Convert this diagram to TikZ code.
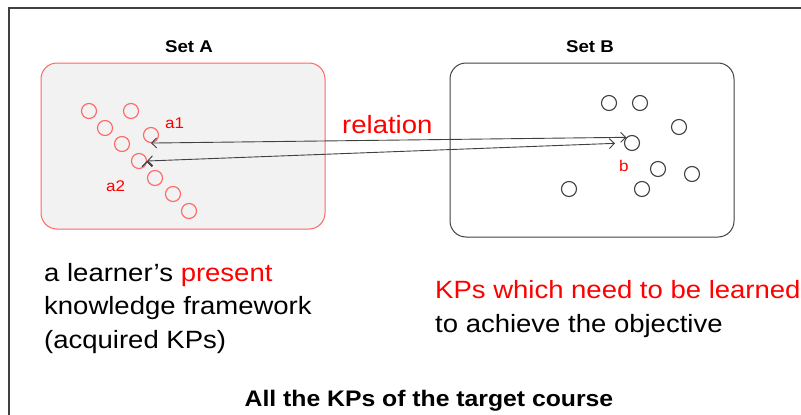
\documentclass[tikz,border=0pt]{standalone}
\usepackage{fontspec}
\setmainfont{Liberation Sans}[FakeStretch=1.1]
\usetikzlibrary{arrows.meta,positioning}

\definecolor{kpred}{HTML}{FF0000}
\definecolor{setedge}{HTML}{FF6666}
\definecolor{setfill}{HTML}{F2F2F2}
\definecolor{inkgray}{HTML}{404040}

\begin{document}
\begin{tikzpicture}[x=1pt,y=-1pt,>={Straight Barb[length=5pt,width=10pt]},
	kpA/.style={circle,draw=setedge,line width=1.1pt,minimum size=15pt,inner sep=0pt},
	kpB/.style={circle,draw=inkgray,line width=1.1pt,minimum size=15pt,inner sep=0pt},
	setbox/.style={rectangle,rounded corners=16pt,line width=1pt,minimum width=284pt},
	settitle/.style={font=\bfseries\fontsize{17}{20}\selectfont,anchor=base,inner sep=0pt},
	kplabel/.style={text=kpred,font=\fontsize{15.5}{18}\selectfont,anchor=base west,inner sep=0pt},
	bigtext/.style={font=\fontsize{25}{33.5}\selectfont,align=left,anchor=base west,inner sep=0pt}]

\useasboundingbox (0,0) rectangle (801,415);
\draw[inkgray,line width=2pt] (801,8) -- (9,8) -- (9,415);

% the two sets
\node[setbox,draw=setedge,fill=setfill,minimum height=166pt] (setA) at (183,146) {};
\node[setbox,draw=inkgray,minimum height=174pt] (setB) at (592,150) {};
\node[settitle] (titleA) at (189,52) {Set A};
\node[settitle] (titleB) at (590,52) {Set B};

% KPs of set A
\node[kpA] (pa1) at (89,111) {};
\node[kpA] (pa2) at (131,111) {};
\node[kpA] (pa3) at (105,128) {};
\node[kpA] (a1)  at (151,135) {};
\node[kpA] (pa5) at (122,144) {};
\node[kpA] (a2)  at (139,161) {};
\node[kpA] (pa7) at (155,178) {};
\node[kpA] (pa8) at (173,194) {};
\node[kpA] (pa9) at (189,211) {};

% KPs of set B
\node[kpB] (pb1) at (609,103) {};
\node[kpB] (pb2) at (640,103) {};
\node[kpB] (pb3) at (679,127) {};
\node[kpB] (b)   at (632,143) {};
\node[kpB] (pb5) at (658,169) {};
\node[kpB] (pb6) at (692,174) {};
\node[kpB] (pb7) at (642,189) {};
\node[kpB] (pb8) at (569,189) {};

\node[kplabel] (la1) at (165,128) {a1};
\node[kplabel] (la2) at (106,191) {a2};
\node[kplabel] (lb)  at (619,171) {b};

% relation
\path[<->,draw=inkgray,line width=0.9pt]
	(a1.south) edge (b.north west)
	(a2.east)  edge[shorten >=9pt] (b.west);
\node[bigtext,text=kpred] (rel) at (342,133) {relation};

% captions (base = last line)
\node[bigtext] (capA) at (44,348) {a learner's \textcolor{kpred}{present}\\knowledge framework\\(acquired KPs)};
\node[bigtext] (capB) at (435,332) {\textcolor{kpred}{KPs which need to be learned}\\to achieve the objective};
\node[font=\bfseries\fontsize{22.5}{26}\selectfont,anchor=base,inner sep=0pt] (course) at (429,406) {All the KPs of the target course};
\end{tikzpicture}
\end{document}
